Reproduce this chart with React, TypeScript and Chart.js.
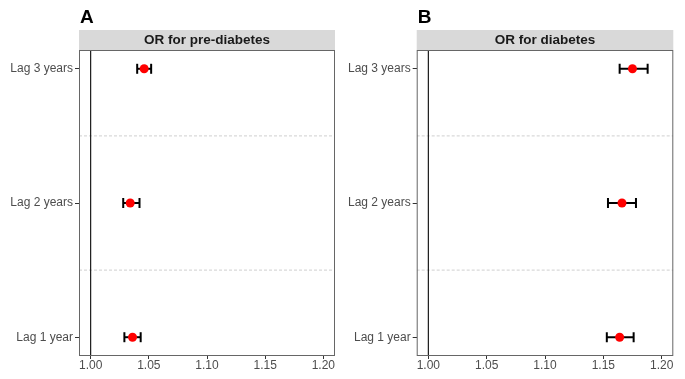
import React, { useEffect, useRef } from "react";
import { Chart, registerables } from "chart.js";

Chart.register(...registerables);

const CATEGORIES = ["Lag 1 year", "Lag 2 years", "Lag 3 years"];
const CAT_POS = [1, 2, 3];
const X_TICKS = [1.0, 1.05, 1.1, 1.15, 1.2];
const SEPARATORS = [1.5, 2.5];
const REF_OR = 1;

const PRE_OR = [1.036, 1.034, 1.046];
const PRE_LO = [1.029, 1.028, 1.04];
const PRE_HI = [1.043, 1.042, 1.052];

const DIA_OR = [1.164, 1.166, 1.175];
const DIA_LO = [1.153, 1.154, 1.164];
const DIA_HI = [1.176, 1.178, 1.188];

const X_MIN = 0.99;
const X_MAX = 1.21;
const Y_MIN = 0.86;
const Y_MAX = 3.14;

const FONT = "'Liberation Sans', Arial, Helvetica, sans-serif";

type PanelProps = {
  letter: string;
  title: string;
  or: number[];
  lo: number[];
  hi: number[];
  left: number;
  width: number;
  axisWidth: number;
  padRight: number;
};

function Panel(props: PanelProps) {
  const ref = useRef<HTMLCanvasElement | null>(null);
  useEffect(() => {
    const canvas = ref.current;
    if (!canvas) return;

    const decor = {
      id: "decor",
      afterDatasetsDraw(chart: any) {
        const { ctx, chartArea } = chart;
        const { left, right, top, bottom } = chartArea;
        ctx.save();
        // panel border
        ctx.strokeStyle = "#666666";
        ctx.lineWidth = 1;
        ctx.strokeRect(left + 0.5, top + 0.5, right - left - 1, bottom - top - 1);
        // strip
        ctx.fillStyle = "#d9d9d9";
        ctx.fillRect(left, top - 20, right - left, 20);
        ctx.fillStyle = "#1a1a1a";
        ctx.font = `bold 13.5px ${FONT}`;
        ctx.textAlign = "center";
        ctx.textBaseline = "middle";
        ctx.fillText(props.title, (left + right) / 2, top - 10);
        // panel letter
        ctx.fillStyle = "#000";
        ctx.font = `bold 19px ${FONT}`;
        ctx.textAlign = "left";
        ctx.textBaseline = "alphabetic";
        ctx.fillText(props.letter, left + 1, 23);
        ctx.restore();
      },
    };

    const datasets: any[] = [];
    datasets.push({
      label: "OR",
      data: CAT_POS.map((y, i) => ({ x: props.or[i], y })),
      pointStyle: "circle",
      pointRadius: 4.5,
      pointBackgroundColor: "#ff0000",
      pointBorderColor: "#ff0000",
      pointBorderWidth: 0,
      showLine: false,
      order: 0,
    });
    CAT_POS.forEach((y, i) => {
      datasets.push({
        label: "CI " + CATEGORIES[i],
        data: [
          { x: props.lo[i], y },
          { x: props.hi[i], y },
        ],
        showLine: true,
        borderColor: "#000",
        borderWidth: 2,
        pointStyle: "line",
        pointRotation: 90,
        pointRadius: 5,
        pointBorderWidth: 2,
        pointBorderColor: "#000",
        order: 1,
      });
    });
    datasets.push({
      label: "ref",
      data: [
        { x: REF_OR, y: Y_MIN },
        { x: REF_OR, y: Y_MAX },
      ],
      showLine: true,
      borderColor: "#1a1a1a",
      borderWidth: 1.2,
      pointRadius: 0,
      order: 2,
    });
    SEPARATORS.forEach((s) => {
      datasets.push({
        label: "sep",
        data: [
          { x: X_MIN, y: s },
          { x: X_MAX, y: s },
        ],
        showLine: true,
        borderColor: "#cfcfcf",
        borderWidth: 1,
        borderDash: [3, 2],
        pointRadius: 0,
        order: 3,
      });
    });

    const chart = new Chart(canvas, {
      type: "scatter",
      data: { datasets },
      plugins: [decor],
      options: {
        animation: false,
        responsive: false,
        devicePixelRatio: 1,
        layout: { padding: { top: 50, right: props.padRight, left: 0, bottom: 0 } },
        plugins: { legend: { display: false }, tooltip: { enabled: false } },
        scales: {
          x: {
            type: "linear",
            min: X_MIN,
            max: X_MAX,
            afterBuildTicks: (scale: any) => {
              scale.ticks = X_TICKS.map((v) => ({ value: v }));
            },
            afterFit: (scale: any) => {
              scale.height = 23;
            },
            ticks: {
              callback: (v: any) => Number(v).toFixed(2),
              color: "#4d4d4d",
              font: { family: FONT, size: 12 },
              padding: -1,
              maxRotation: 0,
              autoSkip: false,
            },
            grid: {
              display: true,
              drawOnChartArea: false,
              drawTicks: true,
              tickLength: 3,
              color: "#333",
            },
            border: { display: false },
          },
          y: {
            type: "linear",
            min: Y_MIN,
            max: Y_MAX,
            afterBuildTicks: (scale: any) => {
              scale.ticks = CAT_POS.map((v) => ({ value: v }));
            },
            afterFit: (scale: any) => {
              scale.width = props.axisWidth;
            },
            ticks: {
              callback: (v: any) => CATEGORIES[CAT_POS.indexOf(Number(v))],
              color: "#4d4d4d",
              font: { family: FONT, size: 12 },
              padding: 2,
              autoSkip: false,
            },
            grid: {
              display: true,
              drawOnChartArea: false,
              drawTicks: true,
              tickLength: 4,
              color: "#333",
            },
            border: { display: false },
          },
        },
      } as any,
    });
    return () => chart.destroy();
  }, []);

  return (
    <canvas
      ref={ref}
      width={props.width}
      height={379}
      style={{ position: "absolute", left: props.left, top: 0, width: props.width, height: 379 }}
    />
  );
}

export default function App() {
  return (
    <div
      style={{
        position: "fixed",
        left: 0,
        top: 0,
        width: 685,
        height: 379,
        background: "#fff",
        overflow: "hidden",
      }}
    >
      <Panel
        letter="A"
        title="OR for pre-diabetes"
        or={PRE_OR}
        lo={PRE_LO}
        hi={PRE_HI}
        left={0}
        width={342}
        axisWidth={79}
        padRight={7}
      />
      <Panel
        letter="B"
        title="OR for diabetes"
        or={DIA_OR}
        lo={DIA_LO}
        hi={DIA_HI}
        left={342}
        width={343}
        axisWidth={74.7}
        padRight={11.7}
      />
    </div>
  );
}
